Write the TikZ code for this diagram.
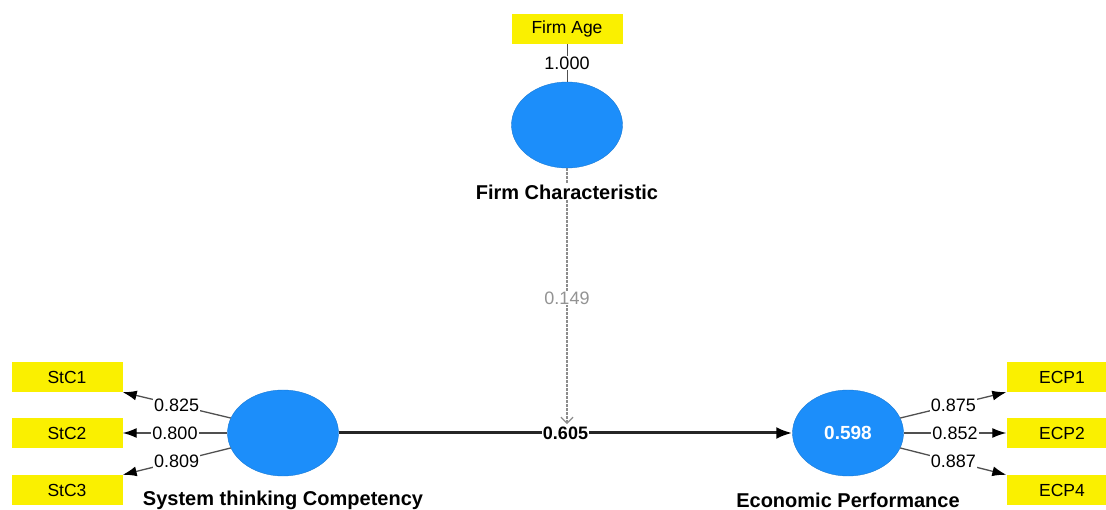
\documentclass[tikz,border=0pt]{standalone}
\usepackage{fontspec}
\setmainfont{Liberation Sans}
\usetikzlibrary{shapes.geometric,arrows.meta}
\definecolor{latblue}{RGB}{28,142,250}
\definecolor{indyel}{RGB}{250,240,0}
\definecolor{lingray}{RGB}{80,80,80}
\tikzset{
  latent/.style={ellipse,fill=latblue,draw=latblue!85!black,line width=0.4pt,minimum width=111pt,minimum height=86pt,inner sep=0pt},
  indbox/.style={rectangle,fill=indyel,minimum width=111pt,minimum height=30pt,inner sep=0pt,font=\fontsize{17.5}{20}\selectfont},
  lvlabel/.style={font=\bfseries\fontsize{20}{24}\selectfont,fill=white,inner sep=1pt},
  coef/.style={font=\fontsize{18}{21}\selectfont,fill=white,inner sep=1pt},
  loadline/.style={draw=lingray,line width=1.3pt,-{Latex[length=14pt,width=10pt,black]}},
}
\begin{document}
\begin{tikzpicture}[x=1pt,y=-1pt]
\useasboundingbox (0,0) rectangle (1106,510);
% latent variables
\node[latent] (fc) at (567,125) {};
\node[latent] (stc) at (283,433) {};
\node[latent,font=\bfseries\fontsize{19}{22}\selectfont,text=white] (ep) at (848,433) {0.598};
% indicators
\node[indbox] (fa) at (567,29) {Firm Age};
\node[indbox] (s1) at (67,377) {StC1};
\node[indbox] (s2) at (67,433) {StC2};
\node[indbox] (s3) at (67,490) {StC3};
\node[indbox] (e1) at (1062,377) {ECP1};
\node[indbox] (e2) at (1062,433) {ECP2};
\node[indbox] (e4) at (1062,490) {ECP4};
% main path
\draw[draw=black!85,line width=3pt,-{Latex[length=16pt,width=12pt,black]}] (stc.east) -- (ep.west)
  node[coef,font=\bfseries\fontsize{18}{21}\selectfont,pos=0.5] (b605) {0.605};
% moderating (dashed) path
\draw[draw=gray!90,line width=1.3pt,dash pattern=on 2.5pt off 1.5pt,-{Straight Barb[length=6pt,width=12pt]}] (fc.south) -- (fc.south |- b605.north);
\node[lvlabel] (fcl) at (567,192) {Firm Characteristic};
\node[coef,text=gray!85] (b149) at (567,298) {0.149};
% firm age
\draw[draw=lingray,line width=1pt] (fa.south) -- (fc.north) node[coef,pos=0.5] (l1000) {1.000};
% StC loadings
\draw[loadline] (stc.164) -- (s1.south east) node[coef,pos=0.5] (l825) {0.825};
\draw[loadline] (stc.west) -- (s2.east) node[coef,pos=0.5] (l800) {0.800};
\draw[loadline] (stc.196) -- (s3.north east) node[coef,pos=0.5] (l809) {0.809};
% ECP loadings
\draw[loadline] (ep.16) -- (e1.south west) node[coef,pos=0.5] (l875) {0.875};
\draw[loadline] (ep.east) -- (e2.west) node[coef,pos=0.5] (l852) {0.852};
\draw[loadline] (ep.-16) -- (e4.north west) node[coef,pos=0.5] (l887) {0.887};
% latent labels
\node[lvlabel] (stcl) at (283,500) {System thinking Competency};
\node[lvlabel] (epl) at (848,500) {Economic Performance};
\end{tikzpicture}
\end{document}
